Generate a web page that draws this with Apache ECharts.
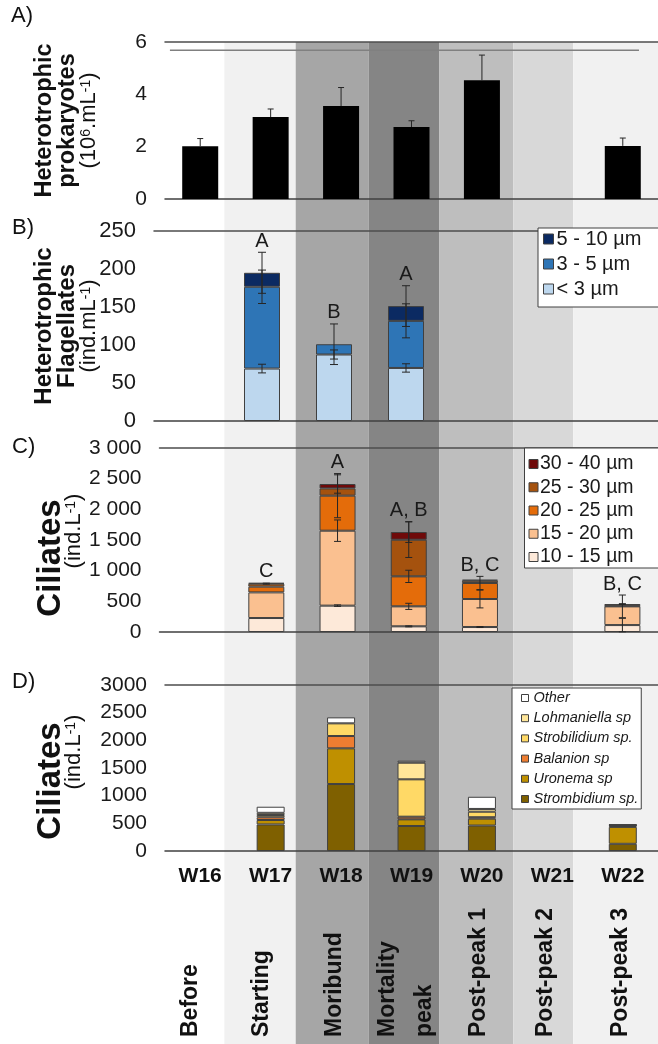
<!DOCTYPE html>
<html>
<head>
<meta charset="utf-8">
<script src="https://cdn.jsdelivr.net/npm/echarts@6/dist/echarts.min.js"></script>
<style>
  html, body { margin: 0; padding: 0; background: #ffffff; }
  #chart { width: 658px; height: 1044px; }
</style>
</head>
<body>
<div id="chart"></div>
<script>
// ---- sampling weeks and bloom phases ----
const weeks = ['W16', 'W17', 'W18', 'W19', 'W20', 'W21', 'W22'];
const phases = ['Before', 'Starting', 'Moribund', 'Mortality\npeak', 'Post-peak 1', 'Post-peak 2', 'Post-peak 3'];
// phase limits, in week-index units
const phaseEdges = [-0.66, 0.343, 1.356, 2.391, 3.397, 4.445, 5.296, 6.6];
const phaseShades = ['#ffffff', '#f1f1f1', '#a6a6a6', '#858585', '#bebebe', '#d8d8d8', '#f1f1f1'];

// ---- A) heterotrophic prokaryotes (10^6 cells mL-1) ----
const prokaryotes = [2.02, 3.13, 3.55, 2.75, 4.54, null, 2.03];
const prokaryotesErr = [0.29, 0.31, 0.71, 0.24, 0.96, null, 0.30];
const bracketLevel = 5.68;
const bracketSpan = [-0.43, 6.23];

// ---- B) heterotrophic flagellates by size class (ind. mL-1) ----
const hfNames = ['< 3 µm', '3 - 5 µm', '5 - 10 µm'];
const hfLt3 = [null, 69, 87.5, 69.8, null, null, null];
const hf3to5 = [null, 107.6, 13.5, 62, null, null, null];
const hf5to10 = [null, 18.4, null, 19.4, null, null, null];
const hfLt3Err = [null, 5.7, 6, 5.5, null, null, null];
const hf3to5Err = [null, 22, 26.7, 22.4, null, null, null];
const hf5to10Err = [null, 27, null, 26.8, null, null, null];
const hfLetters = ['', 'A', 'B', 'A', '', '', ''];

// ---- C) ciliates by size class (ind. L-1) ----
const cilNames = ['10 - 15 µm', '15 - 20 µm', '20 - 25 µm', '25 - 30 µm', '30 - 40 µm'];
const cil10to15 = [null, 228, 430, 92, 81, null, 113];
const cil15to20 = [null, 418, 1222, 326, 457, null, 305];
const cil20to25 = [null, 93, 571, 489, 261, null, 8];
const cil25to30 = [null, 49, 118, 598, 37, null, 30];
const cil30to40 = [null, 12, 72, 125, 17, null, null];
const cil10to15Err = [null, null, 12, 8, 8, null, 110];
const cil15to20Err = [null, null, 175, 50, 145, null, 185];
const cil20to25Err = [null, null, 360, 100, 108, null, null];
const cil25to30Err = [null, 8, null, 290, null, null, 6];
const cil30to40Err = [null, null, 150, 170, null, null, null];
const cilLetters = ['', 'C', 'A', 'A, B', 'B, C', '', 'B, C'];

// ---- D) ciliates by taxon (ind. L-1) ----
const taxNames = ['Strombidium sp.', 'Uronema sp', 'Balanion sp', 'Strobilidium sp.', 'Lohmaniella sp', 'Other'];
const strombidium = [null, 480, 1210, 452, 460, null, 130];
const uronema = [null, 80, 645, 120, 125, null, 305];
const balanion = [null, 50, 223, 48, 25, null, 20];
const strobilidium = [null, 40, 229, 675, 100, null, 10];
const lohmaniella = [null, 40, null, 301, 50, null, 5];
const otherTaxa = [null, 110, 108, 36, 220, null, 10];

// y-axis ticks
const prokTicks = { min: 0, max: 6, interval: 2 };
const hfTicks = { min: 0, max: 250, interval: 50 };
const cilTicks = { min: 0, max: 3000, interval: 500 };

const FONT = 'Liberation Sans, Arial, Helvetica, sans-serif';
const INK = '#262626';
const EDGE = '#404040';

function stackTops(list) {
  const run = weeks.map(() => 0);
  return list.map(vals => vals.map((v, i) => {
    if (v == null) return null;
    run[i] += v;
    return run[i];
  }));
}
function errorPoints(tops, errs) {
  const pts = [];
  tops.forEach((t, s) => t.forEach((v, i) => {
    if (v != null && errs[s][i] != null) pts.push([i, v, errs[s][i]]);
  }));
  return pts;
}
function letterPoints(tops, errs, letters) {
  const pts = [];
  letters.forEach((txt, i) => {
    if (!txt) return;
    let peak = 0;
    tops.forEach((t, s) => {
      if (t[i] != null) peak = Math.max(peak, t[i] + (errs[s][i] || 0));
    });
    pts.push([i, peak]);
  });
  return pts;
}
function errorBarRenderer(capHalf, upOnly) {
  return function (params, api) {
    const i = api.value(0), v = api.value(1), e = api.value(2);
    const hi = api.coord([i, v + e]);
    const lo = api.coord([i, upOnly ? v : v - e]);
    const x = hi[0];
    const style = { stroke: INK, lineWidth: 1 };
    const kids = [
      { type: 'line', shape: { x1: x, y1: hi[1], x2: x, y2: lo[1] }, style },
      { type: 'line', shape: { x1: x - capHalf, y1: hi[1], x2: x + capHalf, y2: hi[1] }, style }
    ];
    if (!upOnly) kids.push({ type: 'line', shape: { x1: x - capHalf, y1: lo[1], x2: x + capHalf, y2: lo[1] }, style });
    return { type: 'group', children: kids };
  };
}
function letterRenderer(letters) {
  return function (params, api) {
    const i = api.value(0);
    const p = api.coord([i, api.value(1)]);
    return {
      type: 'text', x: p[0], y: p[1] - 1,
      style: { text: letters[i], align: 'center', verticalAlign: 'bottom', fill: '#1a1a1a', font: '20px ' + FONT }
    };
  };
}
function thousands(v) { return String(v).replace(/\B(?=(\d{3})+(?!\d))/g, ' '); }
function plain(v) { return String(v); }

const hfTops = stackTops([hfLt3, hf3to5, hf5to10]);
const hfErrs = [hfLt3Err, hf3to5Err, hf5to10Err];
const cilTops = stackTops([cil10to15, cil15to20, cil20to25, cil25to30, cil30to40]);
const cilErrs = [cil10to15Err, cil15to20Err, cil20to25Err, cil25to30Err, cil30to40Err];

// panel frames
const grids = [
  { left: 165, width: 494, top: 42, height: 1002 },   // phase shading
  { left: 165, width: 494, top: 42, height: 157 },    // A
  { left: 154, width: 508, top: 231, height: 190 },   // B
  { left: 159.5, width: 500, top: 448, height: 184 }, // C
  { left: 165, width: 495, top: 685, height: 166 }    // D
];

function catAxis(grid, withLabels) {
  return {
    type: 'category', gridIndex: grid, data: weeks, boundaryGap: true,
    axisLine: { show: true, lineStyle: { color: EDGE, width: 1.5 } },
    axisTick: { show: false },
    axisLabel: withLabels
      ? { show: true, margin: 15, color: '#111', fontFamily: FONT, fontWeight: 'bold', fontSize: 21 }
      : { show: false },
    splitLine: { show: false }
  };
}
function topAxis(grid) {
  return {
    type: 'category', gridIndex: grid, data: weeks, position: 'top',
    axisLine: { show: true, lineStyle: { color: '#4d4d4d', width: 1.5 } },
    axisTick: { show: false }, axisLabel: { show: false }, splitLine: { show: false }
  };
}
// title styles; the padding on a line slides it along the rotated axis title
function richTitle(boldSize, boldLine, unitLine, boldPad, unitPad) {
  return {
    b: { fontFamily: FONT, fontWeight: 'bold', fontSize: boldSize, lineHeight: boldLine, color: '#111', padding: boldPad },
    n: { fontFamily: FONT, fontSize: 22, lineHeight: unitLine, color: '#111', padding: unitPad },
    n0: { fontFamily: FONT, fontSize: 22, lineHeight: unitLine, color: '#111' },
    s: { fontFamily: FONT, fontSize: 14, lineHeight: 14, verticalAlign: 'top', color: '#111' }
  };
}
function valAxis(grid, ticks, name, gap, fontSize, fmt, rich) {
  return Object.assign({
    type: 'value', gridIndex: grid,
    axisLine: { show: false }, axisTick: { show: false }, splitLine: { show: false },
    axisLabel: { color: '#1a1a1a', fontFamily: FONT, fontSize: fontSize, margin: 18, formatter: fmt },
    name: name, nameLocation: 'middle', nameRotate: 90, nameGap: gap, nameMoveOverlap: false,
    nameTextStyle: { fontFamily: FONT, color: '#111', rich: rich }
  }, ticks);
}

const barEdge = { borderColor: EDGE, borderWidth: 1 };
function stackBar(name, data, color, stack, xi, yi, width) {
  return {
    type: 'bar', name: name, data: data, stack: stack, xAxisIndex: xi, yAxisIndex: yi,
    barWidth: width, itemStyle: Object.assign({ color: color }, barEdge), z: 2
  };
}

const option = {
  animation: false,
  backgroundColor: '#ffffff',
  textStyle: { fontFamily: FONT },
  title: [
    { text: 'A)', left: 11, top: 5 },
    { text: 'B)', left: 12, top: 217 },
    { text: 'C)', left: 12, top: 436 },
    { text: 'D)', left: 12, top: 671 }
  ].map(t => Object.assign(t, { padding: 0, textStyle: { fontFamily: FONT, fontWeight: 'normal', fontSize: 22, color: '#111' } })),
  grid: grids.map(g => Object.assign({ containLabel: false }, g)),
  legend: [
    {
      data: ['5 - 10 µm', '3 - 5 µm', '< 3 µm'], orient: 'vertical', left: 538, top: 228,
      itemWidth: 10, itemHeight: 10, itemGap: 5, padding: [1, 40, 8, 5],
      backgroundColor: '#ffffff', borderColor: EDGE, borderWidth: 1,
      itemStyle: { borderColor: EDGE, borderWidth: 1 },
      textStyle: { fontFamily: FONT, fontSize: 20, lineHeight: 20, color: '#1a1a1a', padding: [0, 0, 0, -2] },
      icon: 'rect', selectedMode: false
    },
    {
      data: ['30 - 40 µm', '25 - 30 µm', '20 - 25 µm', '15 - 20 µm', '10 - 15 µm'], orient: 'vertical', left: 524.5, top: 448,
      itemWidth: 9, itemHeight: 9, itemGap: 3.25, padding: [6, 40, 1, 4],
      backgroundColor: '#ffffff', borderColor: EDGE, borderWidth: 1,
      itemStyle: { borderColor: EDGE, borderWidth: 1 },
      textStyle: { fontFamily: FONT, fontSize: 19.5, lineHeight: 19.5, color: '#1a1a1a', padding: [0, 0, 0, -3] },
      icon: 'rect', selectedMode: false
    },
    {
      data: ['Other', 'Lohmaniella sp', 'Strobilidium sp.', 'Balanion sp', 'Uronema sp', 'Strombidium sp.'], orient: 'vertical', left: 512, top: 688,
      itemWidth: 7, itemHeight: 7, itemGap: 4.2, padding: [2, 3, 2, 9],
      backgroundColor: '#ffffff', borderColor: EDGE, borderWidth: 1,
      itemStyle: { borderColor: EDGE, borderWidth: 1 },
      textStyle: { fontFamily: FONT, fontStyle: 'italic', fontSize: 14.5, lineHeight: 16, color: '#1a1a1a' },
      icon: 'rect', selectedMode: false
    }
  ],
  xAxis: [
    { type: 'value', gridIndex: 0, min: -0.5, max: 6.5, show: false },          // 0 shading
    catAxis(1, false), topAxis(1),                                              // 1,2 A
    { type: 'value', gridIndex: 1, min: -0.5, max: 6.5, show: false },          // 3 A bracket
    catAxis(2, false), topAxis(2),                                              // 4,5 B
    catAxis(3, false), topAxis(3),                                              // 6,7 C
    catAxis(4, true), topAxis(4)                                                // 8,9 D
  ],
  yAxis: [
    { type: 'value', gridIndex: 0, min: 0, max: 1, show: false },
    valAxis(1, prokTicks, '{b|Heterotrophic}\n{b|prokaryotes}\n{n0|(10}{s|6}{n0|.mL}{s|-1}{n0|)}', 66, 21, plain,
            richTitle(23.5, 23, 20, 0, 0)),
    valAxis(2, hfTicks, '{b|Heterotrophic}\n{b|Flagellates}\n{n0|(ind.mL}{s|-1}{n0|)}', 55, 22, plain,
            richTitle(24, 23, 20, 0, 0)),
    valAxis(3, cilTicks, '{b|Ciliates}\n{n|(ind.L}{s|-1}{n0|)}', 75.5, 21, thousands,
            richTitle(33, 26, 20, [0, 36, 0, 0], [0, 0, 0, 18])),
    valAxis(4, cilTicks, '{b|Ciliates}\n{n|(ind.L}{s|-1}{n0|)}', 81, 21, plain,
            richTitle(33, 26, 20, [0, 26, 0, 0], [0, 0, 0, 32]))
  ],
  series: [
    // phase shading behind every panel
    {
      type: 'custom', xAxisIndex: 0, yAxisIndex: 0, z: -5, silent: true, clip: false,
      data: phases.map((p, k) => [phaseEdges[k], phaseEdges[k + 1], k]),
      encode: { x: [0, 1], y: 2 },
      renderItem: function (params, api) {
        const a = api.coord([api.value(0), 1]);
        const b = api.coord([api.value(1), 0]);
        return { type: 'rect', shape: { x: a[0], y: a[1], width: b[0] - a[0], height: b[1] - a[1] },
                 style: { fill: phaseShades[api.value(2)] } };
      }
    },
    // phase names, written upward from the bottom edge
    {
      type: 'custom', xAxisIndex: 0, yAxisIndex: 0, z: 1, silent: true, clip: false,
      data: phases.map((p, k) => [(phaseEdges[k] + phaseEdges[k + 1]) / 2, 0, k]),
      encode: { x: 0, y: 1 },
      renderItem: function (params, api) {
        const p = api.coord([api.value(0), api.value(1)]);
        return { type: 'text', x: p[0] + 2, y: p[1] - 7, rotation: Math.PI / 2,
                 style: { text: phases[api.value(2)], align: 'left', verticalAlign: 'middle',
                          font: 'bold 23px ' + FONT, fill: '#111', lineHeight: 37 } };
      }
    },
    // A
    { type: 'bar', name: 'Heterotrophic prokaryotes', data: prokaryotes, xAxisIndex: 1, yAxisIndex: 1,
      barWidth: 36, itemStyle: { color: '#000000' }, z: 2 },
    { type: 'custom', xAxisIndex: 1, yAxisIndex: 1, z: 3, silent: true,
      data: errorPoints([prokaryotes], [prokaryotesErr]), encode: { x: 0, y: 1 },
      renderItem: errorBarRenderer(3, true) },
    { type: 'line', xAxisIndex: 3, yAxisIndex: 1, z: 2, silent: true, symbol: 'none',
      data: [[bracketSpan[0], bracketLevel], [bracketSpan[1], bracketLevel]],
      lineStyle: { color: '#808080', width: 1.5 } },
    // B
    stackBar('< 3 µm', hfLt3, '#bdd7ee', 'hf', 4, 2, 36),
    stackBar('3 - 5 µm', hf3to5, '#2e75b6', 'hf', 4, 2, 36),
    stackBar('5 - 10 µm', hf5to10, '#0b2a62', 'hf', 4, 2, 36),
    { type: 'custom', xAxisIndex: 4, yAxisIndex: 2, z: 3, silent: true,
      data: errorPoints(hfTops, hfErrs), encode: { x: 0, y: 1 }, renderItem: errorBarRenderer(4, false) },
    { type: 'custom', xAxisIndex: 4, yAxisIndex: 2, z: 3, silent: true, clip: false,
      data: letterPoints(hfTops, hfErrs, hfLetters), encode: { x: 0, y: 1 }, renderItem: letterRenderer(hfLetters) },
    // C
    stackBar('10 - 15 µm', cil10to15, '#fde9d9', 'cil', 6, 3, 36),
    stackBar('15 - 20 µm', cil15to20, '#fac090', 'cil', 6, 3, 36),
    stackBar('20 - 25 µm', cil20to25, '#e46c0a', 'cil', 6, 3, 36),
    stackBar('25 - 30 µm', cil25to30, '#a5520e', 'cil', 6, 3, 36),
    stackBar('30 - 40 µm', cil30to40, '#6f0a0a', 'cil', 6, 3, 36),
    { type: 'custom', xAxisIndex: 6, yAxisIndex: 3, z: 3, silent: true,
      data: errorPoints(cilTops, cilErrs), encode: { x: 0, y: 1 }, renderItem: errorBarRenderer(3.5, false) },
    { type: 'custom', xAxisIndex: 6, yAxisIndex: 3, z: 3, silent: true, clip: false,
      data: letterPoints(cilTops, cilErrs, cilLetters), encode: { x: 0, y: 1 }, renderItem: letterRenderer(cilLetters) },
    // D
    stackBar('Strombidium sp.', strombidium, '#7f6000', 'tax', 8, 4, 28),
    stackBar('Uronema sp', uronema, '#bf9000', 'tax', 8, 4, 28),
    stackBar('Balanion sp', balanion, '#ed7d31', 'tax', 8, 4, 28),
    stackBar('Strobilidium sp.', strobilidium, '#ffd966', 'tax', 8, 4, 28),
    stackBar('Lohmaniella sp', lohmaniella, '#ffe699', 'tax', 8, 4, 28),
    stackBar('Other', otherTaxa, '#ffffff', 'tax', 8, 4, 28)
  ]
};

const chart = echarts.init(document.getElementById('chart'), null, { renderer: 'canvas', width: 658, height: 1044 });
chart.setOption(option);
</script>
</body>
</html>
